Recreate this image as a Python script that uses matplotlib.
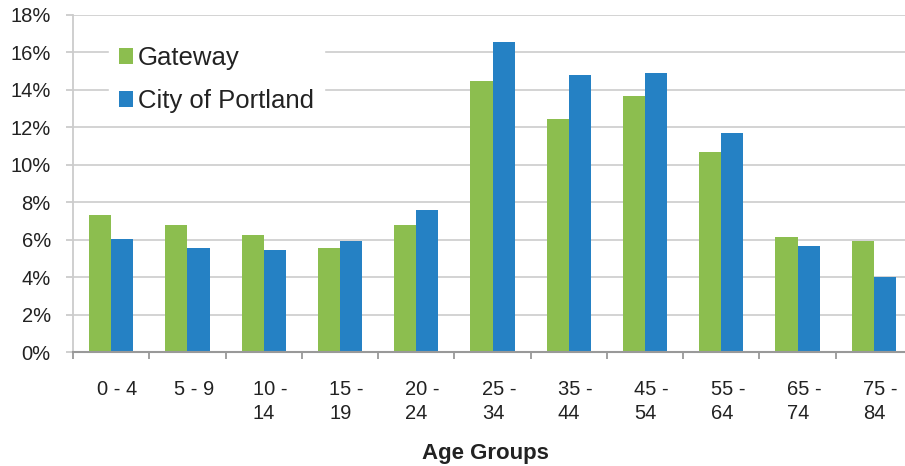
import numpy as np
import matplotlib.pyplot as plt
from matplotlib.ticker import FuncFormatter, FixedLocator, NullFormatter

plt.rcParams['font.family'] = ['Liberation Sans', 'DejaVu Sans']

# age distribution, percent of population
age_groups = ["0 - 4", "5 - 9", "10 -\n14", "15 -\n19", "20 -\n24", "25 -\n34",
              "35 -\n44", "45 -\n54", "55 -\n64", "65 -\n74", "75 -\n84"]
gateway = [7.3, 6.8, 6.25, 5.55, 6.8, 14.5, 12.45, 13.7, 10.7, 6.15, 5.95]
portland = [6.05, 5.55, 5.45, 5.95, 7.6, 16.55, 14.8, 14.9, 11.7, 5.65, 4.0]

green = "#8cbe4f"
blue = "#2581c4"

fig = plt.figure(figsize=(9.05, 4.66), dpi=100)
ax = fig.add_axes([73 / 905, 1 - 352 / 466, (912 - 73) / 905, (352 - 15) / 466])

x = np.arange(len(age_groups))
w = 0.29
ax.bar(x - w / 2, gateway, w, color=green, label="Gateway", zorder=3)
ax.bar(x + w / 2, portland, w, color=blue, label="City of Portland", zorder=3)

ax.set_xlim(-0.5, len(age_groups) - 0.5)
ax.set_ylim(0, 18)
ax.set_yticks(np.arange(0, 19, 2))
ax.yaxis.set_major_formatter(FuncFormatter(lambda v, p: f"{v:.0f}%"))
ax.grid(axis="y", color="#d0d0d0", linewidth=1.3, zorder=0)

# category ticks sit between the groups, labels near the centres
ax.xaxis.set_major_locator(FixedLocator(np.arange(-0.5, len(age_groups), 1)))
ax.xaxis.set_major_formatter(NullFormatter())
ax.xaxis.set_minor_locator(FixedLocator(x + 0.085))
ax.set_xticklabels(age_groups, minor=True, multialignment="left", linespacing=1.35)
ax.tick_params(axis="x", which="minor", length=0, pad=20, labelsize=14.5, labelcolor="#222222")
ax.tick_params(axis="x", which="major", length=5, color="#999999", width=1.3)
ax.tick_params(axis="y", length=5, color="#cccccc", width=1.3, pad=11,
               labelsize=14.5, labelcolor="#222222")

for s in ["top", "right"]:
    ax.spines[s].set_visible(False)
ax.spines["left"].set_color("#cccccc")
ax.spines["left"].set_linewidth(1.3)
ax.spines["bottom"].set_color("#999999")
ax.spines["bottom"].set_linewidth(1.5)
ax.spines["bottom"].set_zorder(4)

ax.set_xlabel("Age Groups", fontsize=16, fontweight="bold", color="#222222")
ax.xaxis.set_label_coords((485 - 73) / 839, -0.27)

leg = ax.legend(loc="upper left", bbox_to_anchor=(0.027, 0.977), fontsize=18.5,
                frameon=True, fancybox=False, edgecolor="white", framealpha=1,
                handlelength=0.55, handleheight=0.55, handletextpad=0.2,
                labelspacing=0.74, borderpad=0.4)
leg.set_zorder(5)
for t in leg.get_texts():
    t.set_color("#222222")

fig.savefig("out.png", dpi=100)
